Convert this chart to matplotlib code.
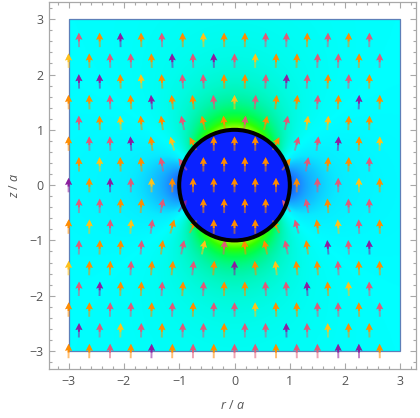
"""Dielectric sphere in a uniform field: |E| density with direction arrows."""

import matplotlib
matplotlib.use("Agg")
import matplotlib.pyplot as plt
import numpy as np
from matplotlib.colors import LinearSegmentedColormap
from matplotlib.patches import Circle, Rectangle

# ---- model parameters ------------------------------------------------------
eps_r = 4.0          # relative permittivity of the sphere
radius = 1.0         # sphere radius a
E0 = 1.0             # applied field along z

# arrow sample grid (staggered rows), in units of a
step = 0.375
row_z = np.arange(-3.0, 2.7, step)
even_x = np.arange(-3.0, 2.7, step)
odd_x = np.arange(-3.0 + step / 2, 2.5, step)

# colour scale for |E|/E0
level_vals = [0.50, 0.70, 0.85, 0.92, 1.00, 1.08, 1.25, 1.45, 1.65, 2.00]
level_cols = ["#1258ff", "#1a8cff", "#10c4ff", "#08eaff", "#00ffff",
              "#00fbe6", "#00f5a8", "#00ff50", "#30ff00", "#c8ff00"]
inside_col = "#0a22ff"
inside_arrow = "#ff8c00"
arrow_palette = ["#ff8c00", "#e05a78", "#ff8c00", "#e05a78", "#ff8c00",
                 "#e05a78", "#8b1e9e", "#ff8c00", "#e05a78", "#ffc21a"]


def field(x, z):
    beta = (eps_r - 1) / (eps_r + 2) * radius ** 3
    rr = np.sqrt(x ** 2 + z ** 2)
    rr = np.where(rr < 1e-9, 1e-9, rr)
    ez_hat = z / rr
    ex = E0 * beta * 3 * ez_hat * (x / rr) / rr ** 3
    ez = E0 * (1 + beta * (3 * ez_hat ** 2 - 1) / rr ** 3)
    inside = rr < radius
    e_in = 3 / (eps_r + 2) * E0
    ex = np.where(inside, 0.0, ex)
    ez = np.where(inside, e_in, ez)
    return ex, ez


def main():
    plt.rcParams["font.family"] = "Open Sans"
    plt.rcParams["mathtext.fontset"] = "custom"
    plt.rcParams["mathtext.it"] = "Open Sans:italic"
    plt.rcParams["mathtext.rm"] = "Open Sans"

    fig = plt.figure(figsize=(4.2, 4.18), dpi=100)
    ax = fig.add_axes([49 / 420, 1 - 369.3 / 418, 367.7 / 420, 367.8 / 418])

    # density
    g = np.linspace(-3, 3, 601)
    X, Z = np.meshgrid(g, g)
    ex, ez = field(X, Z)
    mag = np.hypot(ex, ez) / E0
    lo, hi = level_vals[0], level_vals[-1]
    nodes = [((v - lo) / (hi - lo), c) for v, c in zip(level_vals, level_cols)]
    cmap = LinearSegmentedColormap.from_list("efield", nodes)
    ax.imshow(mag, extent=(-3, 3, -3, 3), origin="lower", cmap=cmap,
              vmin=lo, vmax=hi, interpolation="bilinear", zorder=1)
    ax.add_patch(Circle((0, 0), radius, facecolor=inside_col, edgecolor="none", zorder=2))
    ax.add_patch(Rectangle((-3, -3), 6, 6, fill=False, edgecolor="#5d7fb8",
                           lw=0.9, zorder=3))

    # arrows
    xs, zs, cols = [], [], []
    for i, z in enumerate(row_z):
        row = even_x if i % 2 == 0 else odd_x
        for j, x in enumerate(row):
            xs.append(x)
            zs.append(z)
            if np.hypot(x, z) < radius:
                cols.append(inside_arrow)
                continue
            h = (((i * 131 + j * 977 + 17) * 2654435761) % 2 ** 32) >> 13
            cols.append(arrow_palette[h % len(arrow_palette)])
    xs = np.array(xs)
    zs = np.array(zs)
    ux, uz = field(xs, zs)
    n = np.hypot(ux, uz)
    ux, uz = ux / n, uz / n
    L = 0.26
    tipx, tipz = xs + ux * L / 2, zs + uz * L / 2
    kw = dict(units="xy", scale_units="xy", scale=1, pivot="tip", width=0.035,
              headwidth=3.6, headlength=3.6, headaxislength=3.2, zorder=4)
    ax.quiver(tipx, tipz, ux * L, uz * L, color=cols, alpha=0.55, **kw)
    ax.quiver(tipx, tipz, ux * L * 0.6, uz * L * 0.6, color=cols, **kw)

    ax.add_patch(Circle((0, 0), radius, fill=False, edgecolor="black", lw=2.9, zorder=5))

    # frame
    ax.set_xlim(-3.35, 3.29)
    ax.set_ylim(-3.33, 3.32)
    ax.set_xticks(range(-3, 4))
    ax.set_yticks(range(-3, 4))
    ax.set_xticks(np.arange(-3.2, 3.3, 0.2), minor=True)
    ax.set_yticks(np.arange(-3.2, 3.3, 0.2), minor=True)
    ax.tick_params(which="both", direction="in", top=True, right=True,
                   color="#a8a8a8", labelcolor="#555555", labelsize=9, width=0.8)
    ax.tick_params(which="major", length=4.5, pad=4)
    ax.tick_params(which="minor", length=2.5)
    ax.tick_params(top=True, right=True, labeltop=False, labelright=False)
    for s in ax.spines.values():
        s.set_color("#a8a8a8")
        s.set_linewidth(0.9)
    ax.set_xlabel(r"$r$ / $a$", color="#555555", fontsize=9, labelpad=8)
    ax.set_ylabel(r"$z$ / $a$", color="#555555", fontsize=9, labelpad=6)

    fig.savefig("out.png", dpi=100)


if __name__ == "__main__":
    main()
